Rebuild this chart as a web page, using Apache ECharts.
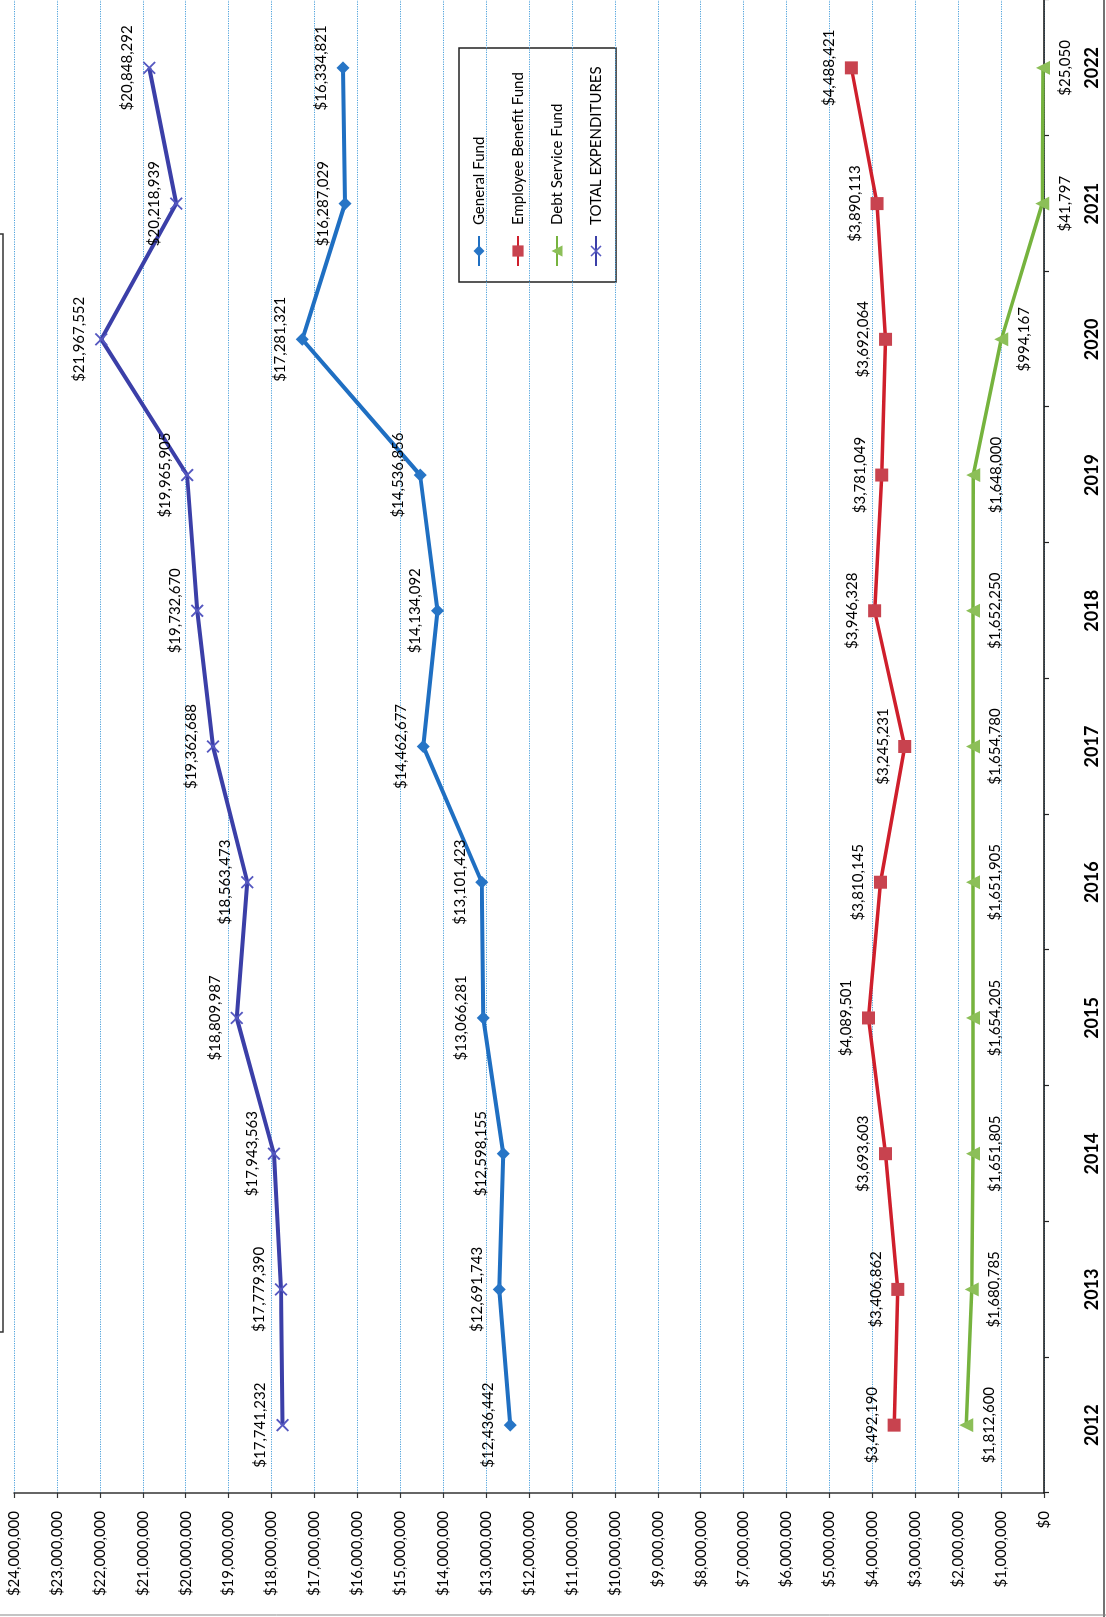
<!DOCTYPE html>
<html><head><meta charset="utf-8">
<script src="https://cdn.jsdelivr.net/npm/echarts@6/dist/echarts.min.js"></script>
<style>
html,body{margin:0;padding:0;background:#fff;overflow:hidden;width:1106px;height:1617px;}
#chart{position:absolute;left:0;top:0;width:1617px;height:1106px;transform-origin:0 0;transform:translate(0,1617px) rotate(-90deg);}
</style></head><body><div id="chart"></div>
<script>
const years = ['2012','2013','2014','2015','2016','2017','2018','2019','2020','2021','2022'];
const generalFund = [12436442,12691743,12598155,13066281,13101423,14462677,14134092,14536856,17281321,16287029,16334821];
const employeeBenefitFund = [3492190,3406862,3693603,4089501,3810145,3245231,3946328,3781049,3692064,3890113,4488421];
const debtServiceFund = [1812600,1680785,1651805,1654205,1651905,1654780,1652250,1648000,994167,41797,25050];
const totalExpenditures = [17741232,17779390,17943563,18809987,18563473,19362688,19732670,19965905,21967552,20218939,20848292];
const seriesNames = ['General Fund','Employee Benefit Fund','Debt Service Fund','TOTAL EXPENDITURES'];
const valueMin = 0, valueMax = 24000000, valueStep = 1000000;

const money = v => '$' + Number(v).toLocaleString('en-US');
const FONT = 'Lato';
const xPath = 'path://M1,0 L5,4 L9,0 L10,1 L6,5 L10,9 L9,10 L5,6 L1,10 L0,9 L4,5 L0,1 Z';

const chart = echarts.init(document.getElementById('chart'), null, {renderer:'canvas'});
function mk(name, data, color, markColor, symbol, size, pos, width) {
  return {
    name, type:'line', data, symbol, symbolSize:size,
    lineStyle:{color, width},
    itemStyle:{color:markColor},
    label:{show:true, position:pos, distance:8, formatter:p=>money(p.value),
      color:'#000', fontFamily:FONT, fontSize:15},
    z: 3
  };
}
chart.setOption({
  animation:false,
  backgroundColor:'#fff',
  grid:{left:124, right:0, top:14, bottom:62, containLabel:false},
  xAxis:{type:'category', data:years, boundaryGap:true,
    axisLine:{lineStyle:{color:'#111', width:1.5}},
    axisTick:{show:true, alignWithLabel:false, length:5, lineStyle:{color:'#222', width:1.2}},
    axisLabel:{color:'#000', fontFamily:FONT, fontWeight:'bold', fontSize:18, margin:39},
    splitLine:{show:false}},
  yAxis:{type:'value', min:valueMin, max:valueMax, interval:valueStep,
    axisLine:{show:true, lineStyle:{color:'#333', width:1.5}},
    axisTick:{show:true, length:5, lineStyle:{color:'#333', width:1.2}},
    axisLabel:{color:'#000', fontFamily:FONT, fontSize:15, margin:18, formatter:v=>money(v)},
    splitLine:{show:true, lineStyle:{color:'#4ea2dc', type:'dotted', width:1.2}}},
  legend:{orient:'vertical', left:1350, top:471, padding:0, data:seriesNames,
    itemWidth:30, itemHeight:14, itemGap:23,
    textStyle:{color:'#000', fontFamily:FONT, fontSize:15, lineHeight:16, padding:[0,0,0,6]}},
  graphic:[
    {type:'rect', shape:{x:1335, y:459, width:234, height:157}, style:{fill:'none', stroke:'#222', lineWidth:1.5}},
    {type:'line', shape:{x1:0, y1:1104, x2:1617, y2:1104}, style:{stroke:'#444', lineWidth:1.5}},
    {type:'line', shape:{x1:2, y1:0, x2:2, y2:1106}, style:{stroke:'#888', lineWidth:1}},
    {type:'polyline', shape:{points:[[285,0],[285,3],[1383,3],[1383,0]]}, style:{stroke:'#333', lineWidth:1.5, fill:'none'}}
  ],
  series:[
    mk(seriesNames[0], generalFund, '#1f6fc2', '#2775c6', 'diamond', 13, 'top', 4),
    mk(seriesNames[1], employeeBenefitFund, '#cf1f2c', '#c8434f', 'rect', 13, 'top', 3.5),
    mk(seriesNames[2], debtServiceFund, '#76b33e', '#8cbf58', 'triangle', 14, 'bottom', 3.5),
    mk(seriesNames[3], totalExpenditures, '#3b3fa8', '#5558c0', xPath, 13, 'top', 4)
  ]
});
</script></body></html>
